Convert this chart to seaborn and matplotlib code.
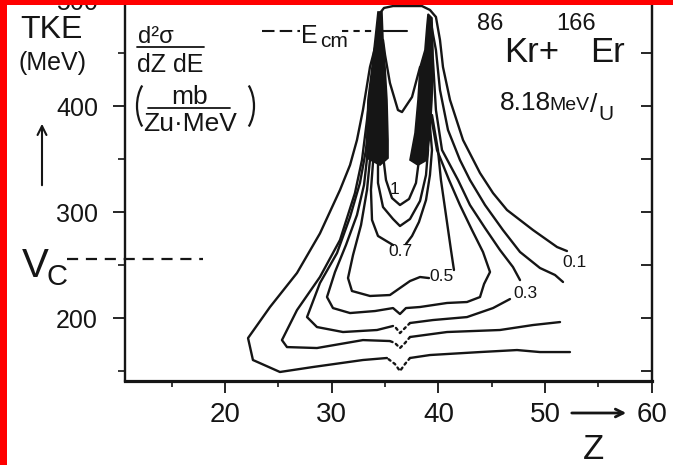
import matplotlib
matplotlib.use("Agg")
import matplotlib.pyplot as plt
from matplotlib.patches import Rectangle, Arc
from matplotlib.lines import Line2D
import pandas as pd
import seaborn as sns

# ---------------------------------------------------------------------------
# Contours of d2sigma/dZdE for 86Kr + 166Er at 8.18 MeV/u, traced in the
# (Z, TKE) plane.  Each contour runs from the right-hand data limit, round the
# low-TKE side, up the left ridge and (after the ridges) down the right side.
# ---------------------------------------------------------------------------
contour_a_z = [52.33, 49.52, 47.37, 43.90, 39.21, 37.34, 36.87, 36.40, 35.93, 35.18,
               32.93, 28.25, 25.15, 22.62, 22.16, 24.22, 26.75, 28.90, 30.78, 31.72,
               32.37, 32.93, 33.59, 34.25, 34.53, 34.90, 35.75, 38.46, 39.21, 39.77,
               40.15, 40.43, 41.09, 42.31, 43.90, 45.12, 46.43, 48.87, 51.12, 52.05]
contour_a_tke = [167.9, 167.9, 169.8, 167.9, 165.1, 162.3, 156.6, 150.0, 156.6, 162.3,
                 160.4, 153.8, 149.1, 160.4, 181.1, 210.4, 242.5, 279.8, 320.8, 344.3,
                 367.9, 396.2, 436.8, 462.3, 487.7, 492.5, 494.3, 494.3, 490.6, 484.0,
                 462.3, 436.8, 405.7, 367.9, 336.8, 317.9, 301.9, 283.0, 267.0, 263.2]

contour_b_z = [51.40, 48.87, 45.77, 40.81, 37.34, 36.87, 36.40, 35.93, 35.46, 32.93,
               28.62, 25.81, 25.34, 26.75, 28.90, 30.78, 32.18, 32.84, 33.31, 33.87,
               34.34, 34.55, 39.25, 39.49, 39.77, 40.15, 40.90, 42.02, 42.96, 44.37,
               46.05, 47.65, 49.52, 50.93, 51.68]
contour_b_tke = [196.2, 193.4, 188.7, 186.8, 182.1, 176.4, 171.7, 176.4, 178.3, 179.2,
                 171.7, 172.6, 179.2, 207.5, 238.7, 273.6, 317.9, 349.1, 386.8, 434.0,
                 467.0, 482.0, 482.0, 468.0, 452.8, 415.1, 377.4, 349.1, 330.2, 306.6,
                 283.0, 262.3, 247.2, 240.6, 234.0]

contour_c_z = [46.71, 45.12, 42.68, 39.49, 37.34, 36.87, 36.40, 36.03, 35.75, 34.25,
               31.06, 28.62, 27.69, 28.90, 30.50, 31.72, 32.65, 33.21, 33.68, 34.25,
               34.55, 39.20, 39.49, 39.77, 40.34, 41.84, 42.96, 44.37, 45.77, 46.99,
               47.65]
contour_c_tke = [217.9, 209.4, 200.9, 198.1, 195.3, 190.6, 185.8, 190.6, 192.5, 188.7,
                 186.8, 191.5, 200.9, 233.0, 261.3, 295.3, 327.4, 358.5, 405.7, 448.1,
                 472.0, 472.0, 443.4, 396.2, 358.5, 330.2, 306.6, 284.9, 264.2, 248.1,
                 235.8]

contour_d_z = [33.78, 33.40, 33.03, 32.37, 31.34, 30.31, 29.56, 30.12, 31.72, 34.06,
               35.75, 36.40, 36.96, 38.28, 40.81, 42.68, 43.90, 44.28, 44.84, 44.18,
               43.15, 42.02, 41.00, 39.87, 39.21]
contour_d_tke = [396.2, 358.5, 325.5, 297.2, 268.9, 243.4, 219.8, 209.4, 204.7, 206.6,
                 209.4, 203.8, 209.4, 210.4, 214.2, 215.1, 219.8, 232.1, 243.4, 262.3,
                 283.0, 306.6, 330.2, 358.5, 396.2]

contour_e_z = [34.06, 33.68, 33.31, 32.75, 32.00, 31.53, 31.90, 33.59, 35.46, 36.40,
               37.34, 38.28, 39.12, 41.46, 41.18, 40.71, 40.24, 39.96, 39.40]
contour_e_tke = [396.2, 358.5, 320.8, 287.7, 259.4, 237.7, 225.5, 220.8, 221.7, 228.3,
                 234.9, 238.7, 237.7, 245.3, 264.2, 297.2, 330.2, 358.5, 391.5]

contour_f_z = [34.34, 33.96, 33.68, 33.78, 34.34, 35.28, 35.75, 36.96, 37.53, 38.18,
               38.84, 39.21, 39.40, 39.12]
contour_f_tke = [396.2, 358.5, 320.8, 292.5, 277.4, 271.7, 268.9, 269.8, 277.4, 290.6,
                 311.3, 334.9, 358.5, 391.5]

contour_g_z = [34.62, 34.34, 34.34, 34.81, 35.75, 36.40, 37.34, 38.28, 38.84, 39.03, 38.84]
contour_g_tke = [386.8, 358.5, 327.4, 304.7, 293.4, 286.8, 293.4, 310.4, 334.9, 358.5, 386.8]

contour_h_z = [35.00, 34.81, 35.09, 35.65, 36.40, 37.25, 37.90, 38.18, 38.28]
contour_h_tke = [377.4, 353.8, 330.2, 313.2, 306.6, 312.3, 327.4, 349.1, 377.4]

# inner valley between the two ridges near E_cm
valley_z = [34.81, 35.00, 35.46, 36.21, 36.59, 37.53, 38.28]
valley_tke = [462.3, 448.2, 421.7, 396.2, 394.3, 408.5, 436.8]

# outlines of the two dense (blackened) ridges of contours
ridge_left_z = [34.34, 34.71, 34.81, 35.00, 35.18, 35.28, 35.28, 34.53, 33.31, 33.31,
                33.40, 33.78, 34.06]
ridge_left_tke = [488.7, 488.7, 462.3, 436.8, 405.7, 367.9, 350.9, 344.3, 350.9, 377.4,
                  405.7, 436.8, 462.3]
ridge_right_z = [39.03, 39.40, 39.49, 39.49, 39.40, 39.21, 38.93, 38.09, 37.34, 37.81,
                 38.09, 38.28, 38.74, 38.93]
ridge_right_tke = [486.8, 483.0, 452.8, 436.8, 405.7, 374.5, 349.1, 344.3, 349.1, 374.5,
                   405.7, 436.8, 452.8, 476.4]

# contour values written on the lines, and where they are written
level_names = ["a", "c", "e", "f", "h"]
level_values = ["0.1", "0.3", "0.5", "0.7", "1"]
level_label_z = [52.75, 48.15, 40.30, 36.40, 35.90]
level_label_tke = [252.5, 223.5, 239.5, 263.0, 321.0]

# reference energies (MeV) and axis ticks
vc_tke = 255.7
ecm_tke = 470.8
x_major = [20, 30, 40, 50, 60]
x_minor = [15, 25, 35, 45, 55]
y_major = [200, 300, 400, 500]
y_minor = [150, 250, 350, 450]

# ---------------------------------------------------------------------------
CONTOURS = {
    "a": (contour_a_z, contour_a_tke), "b": (contour_b_z, contour_b_tke),
    "c": (contour_c_z, contour_c_tke), "d": (contour_d_z, contour_d_tke),
    "e": (contour_e_z, contour_e_tke), "f": (contour_f_z, contour_f_tke),
    "g": (contour_g_z, contour_g_tke), "h": (contour_h_z, contour_h_tke),
}
DOTTED_SPAN = {"a": (5, 9), "b": (4, 8), "c": (4, 8)}   # dotted dip near Z = 36
BREAK_AFTER = {"b": [21], "c": [20], "e": [12], "f": [6]}  # ridge top / value label

INK = "#151515"
W, H = 673, 465

sns.set_theme(style="white")
plt.rcParams["font.family"] = ["Liberation Sans", "DejaVu Sans"]

fig = plt.figure(figsize=(W / 100, H / 100), dpi=100)
fig.patch.set_facecolor("white")
ax = fig.add_axes([125 / W, 84 / H, 527 / W, 391.6 / H])
ax.set_facecolor("white")
ax.set_xlim(10.63, 60.02)
ax.set_ylim(140.6, 510.0)


def trace(z, t, dotted=False):
    df = pd.DataFrame({"Z": z, "TKE": t})
    kw = dict(linestyle=(0, (1.0, 1.6)), dash_capstyle="round") if dotted else {}
    sns.lineplot(data=df, x="Z", y="TKE", sort=False, estimator=None, ax=ax,
                 color=INK, lw=1.7, legend=False, **kw)


for name, (z, t) in CONTOURS.items():
    cuts = BREAK_AFTER.get(name, [])
    starts = [0] + [c + 1 for c in cuts]
    ends = cuts + [len(z) - 1]
    for s, e in zip(starts, ends):
        span = DOTTED_SPAN.get(name)
        if span and s <= span[0] and span[1] <= e:
            i0, i1 = span
            trace(z[s:i0 + 1], t[s:i0 + 1])
            trace(z[i0:i1 + 1], t[i0:i1 + 1], dotted=True)
            trace(z[i1:e + 1], t[i1:e + 1])
        else:
            trace(z[s:e + 1], t[s:e + 1])

trace(valley_z, valley_tke)
ax.fill(ridge_left_z, ridge_left_tke, color=INK, lw=1.2, zorder=3)
ax.fill(ridge_right_z, ridge_right_tke, color=INK, lw=1.2, zorder=3)

for name, val, lz, lt in zip(level_names, level_values, level_label_z, level_label_tke):
    ax.text(lz, lt, val, fontsize=12.5, ha="center", va="center", color=INK, zorder=4)

# V_C and E_cm markers
ax.plot([5.2, 17.95], [vc_tke, vc_tke], color=INK, lw=1.6, linestyle=(0, (5, 3.5)),
        clip_on=False)
ax.plot([23.5, 27.0], [ecm_tke, ecm_tke], color=INK, lw=1.5, linestyle=(0, (6, 2.5)))
ax.plot([31.0, 34.3], [ecm_tke, ecm_tke], color=INK, lw=1.5, linestyle=(0, (3, 2.5)))
ax.plot([34.3, 37.06], [ecm_tke, ecm_tke], color=INK, lw=1.5)

# axes, ticks
ax.spines["top"].set_visible(False)
for side, lw in (("left", 1.7), ("bottom", 2.3), ("right", 1.6)):
    ax.spines[side].set_visible(True)
    ax.spines[side].set_color(INK)
    ax.spines[side].set_linewidth(lw)

ax.set_xticks(x_major)
ax.set_xticks(x_minor, minor=True)
ax.set_yticks(y_major)
ax.set_yticks(y_minor, minor=True)
ax.set_xticklabels([str(v) for v in x_major])
ax.set_yticklabels([str(v) for v in y_major])
ax.tick_params(axis="x", which="major", bottom=True, direction="out", length=8.5,
               width=1.3, pad=6.5, labelsize=20, colors=INK)
ax.tick_params(axis="x", which="minor", bottom=True, direction="out", length=4,
               width=1.2, colors=INK)
ax.tick_params(axis="y", which="major", left=True, right=False, direction="out",
               length=9, width=1.3, pad=10.5, labelsize=18, colors=INK)
ax.tick_params(axis="y", which="minor", left=True, right=False, direction="out",
               length=5, width=1.2, colors=INK)
ax.set_xlabel("")
ax.set_ylabel("")
ax.grid(False)

ax2 = ax.twinx()
ax2.set_ylim(ax.get_ylim())
ax2.set_yticks(y_minor + y_major)
ax2.tick_params(axis="y", right=True, left=False, labelright=False, direction="in",
                length=8, width=1.3, colors=INK)
for side in ("top", "left", "bottom"):
    ax2.spines[side].set_visible(False)
ax2.spines["right"].set_color(INK)
ax2.spines["right"].set_linewidth(1.6)
ax2.grid(False)


def put(x, y, s, size, ha="left", **kw):
    fig.text(x / W, 1 - y / H, s, fontsize=size, ha=ha, va="baseline", color=INK, **kw)


def fline(x0, x1, y, lw=1.3):
    fig.add_artist(Line2D([x0 / W, x1 / W], [1 - y / H, 1 - y / H],
                          transform=fig.transFigure, color=INK, lw=lw))


# axis titles
put(20, 38, "TKE", 23)
put(19, 70, "(MeV)", 18)
put(22, 277, "V", 29)
put(47, 285, "C", 21)
put(583, 459, "Z", 25)
ax.annotate("", xy=(42 / W, 1 - 121 / H), xytext=(42 / W, 1 - 188 / H),
            xycoords="figure fraction", textcoords="figure fraction",
            arrowprops=dict(arrowstyle="->", lw=1.5, color=INK, mutation_scale=16))
ax.annotate("", xy=(629 / W, 1 - 413 / H), xytext=(569 / W, 1 - 413 / H),
            xycoords="figure fraction", textcoords="figure fraction",
            arrowprops=dict(arrowstyle="->", lw=2.0, color=INK, mutation_scale=14))

# cross-section units
put(138, 43, "d\u00b2\u03c3", 17)
fline(137, 204, 47)
put(137, 72, "dZ dE", 18)
put(190, 104, "mb", 19, ha="center")
fline(148, 230, 108)
put(190, 131, "Zu\u00b7MeV", 19, ha="center")
fig.add_artist(Arc((158 / W, 1 - 106 / H), 42 / W, 62 / H, theta1=118, theta2=242,
                   transform=fig.transFigure, color=INK, lw=1.6))
fig.add_artist(Arc((233 / W, 1 - 106 / H), 42 / W, 62 / H, theta1=-62, theta2=62,
                   transform=fig.transFigure, color=INK, lw=1.6))

# E_cm label
put(301, 43, "E", 18)
put(320, 47, "cm", 15)

# reaction
put(477, 30, "86", 17)
put(556, 30, "166", 17)
put(504, 62, "Kr+", 25)
put(590, 62, "Er", 25)
put(500, 110, "8.18", 19)
put(549, 110, "MeV", 14)
put(590, 112, "/", 19)
put(598, 120, "U", 15)

# red frame of the scan
fig.add_artist(Rectangle((0, 0), 7 / W, 1, transform=fig.transFigure,
                         color="#ff0000", lw=0, zorder=20))
fig.add_artist(Rectangle((0, 1 - 5.5 / H), 1, 5.5 / H, transform=fig.transFigure,
                         color="#ff0000", lw=0, zorder=20))

fig.savefig("out.png", dpi=100, facecolor="white")
